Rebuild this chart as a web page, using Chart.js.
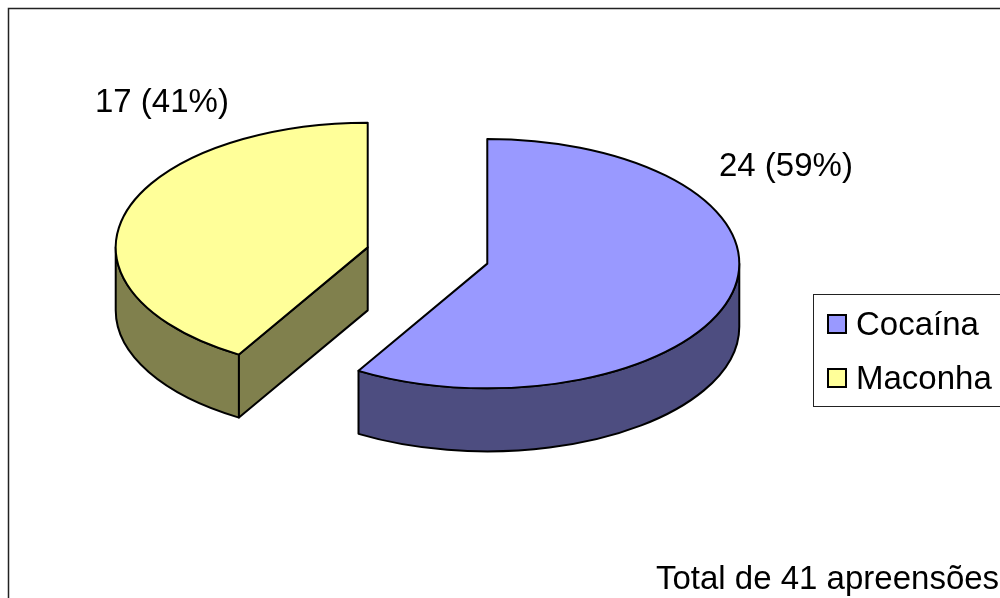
<!DOCTYPE html>
<html>
<head>
<meta charset="utf-8">
<script src="https://cdn.jsdelivr.net/npm/chart.js@4/dist/chart.umd.min.js"></script>
<style>
  html, body { margin: 0; padding: 0; background: #fff; }
  canvas { display: block; }
</style>
</head>
<body>
<canvas id="pizza" width="1000" height="598"></canvas>
<script>
// Dados do gráfico
const categorias = ['Cocaína', 'Maconha'];
const apreensoes = [24, 17];
const cores = ['#9999FF', '#FFFF99'];
const coresLaterais = ['#4D4D80', '#80804D'];
const tituloTotal = 'Total de 41 apreensões';

// Aparência do efeito 3D
const INCLINACAO = 0.495;   // achatamento vertical
const PROFUNDIDADE = 63;    // espessura da pizza em px
const EXPLOSAO = 62;        // afastamento das fatias
const FONTE = '33px "Liberation Sans", Arial, sans-serif';

const total = apreensoes.reduce((a, b) => a + b, 0);
const rotulos = apreensoes.map(v => v + ' (' + Math.round(v / total * 100) + '%)');

// Pizza 3D: laterais desenhadas a partir da geometria dos arcos do Chart.js
const pizza3d = {
  id: 'pizza3d',
  beforeDatasetsDraw(chart) {
    const ctx = chart.ctx;
    const meta = chart.getDatasetMeta(0);
    const cy = (chart.chartArea.top + chart.chartArea.bottom) / 2;
    const partes = meta.data.map((el, i) => {
      const p = el.getProps(['x', 'y', 'startAngle', 'endAngle', 'outerRadius']);
      const meio = (p.startAngle + p.endAngle) / 2;
      const ex = Math.cos(meio) * EXPLOSAO;
      const ey = Math.sin(meio) * EXPLOSAO;
      return {
        el, i, ex, ey,
        cx: p.x + ex,
        cy: cy + (p.y - cy + ey) * INCLINACAO,
        r: p.outerRadius, s: p.startAngle, e: p.endAngle
      };
    });

    ctx.save();
    ctx.lineWidth = 2;
    ctx.lineJoin = 'round';
    ctx.strokeStyle = '#000';

    // laterais
    partes.forEach(pt => {
      const rx = pt.r, ry = pt.r * INCLINACAO;
      ctx.fillStyle = coresLaterais[pt.i];
      const a1 = Math.max(pt.s, 0), a2 = Math.min(pt.e, Math.PI);
      if (a2 > a1) {
        ctx.beginPath();
        ctx.ellipse(pt.cx, pt.cy, rx, ry, 0, a1, a2);
        ctx.ellipse(pt.cx, pt.cy + PROFUNDIDADE, rx, ry, 0, a2, a1, true);
        ctx.closePath();
        ctx.fill();
        ctx.stroke();
      }
      [[pt.s, Math.cos(pt.s) < -0.01], [pt.e, Math.cos(pt.e) > 0.01]].forEach(([a, visivel]) => {
        if (!visivel) return;
        const x = pt.cx + rx * Math.cos(a), y = pt.cy + ry * Math.sin(a);
        ctx.beginPath();
        ctx.moveTo(pt.cx, pt.cy);
        ctx.lineTo(x, y);
        ctx.lineTo(x, y + PROFUNDIDADE);
        ctx.lineTo(pt.cx, pt.cy + PROFUNDIDADE);
        ctx.closePath();
        ctx.fill();
        ctx.stroke();
      });
    });

    // topo das fatias
    partes.forEach(pt => {
      ctx.save();
      ctx.translate(pt.ex, cy + pt.ey * INCLINACAO);
      ctx.scale(1, INCLINACAO);
      ctx.translate(0, -cy);
      pt.el.draw(ctx);
      ctx.restore();
      ctx.beginPath();
      ctx.moveTo(pt.cx, pt.cy);
      ctx.ellipse(pt.cx, pt.cy, pt.r, pt.r * INCLINACAO, 0, pt.s, pt.e);
      ctx.closePath();
      ctx.stroke();
    });
    ctx.restore();
    return false;
  }
};

// Moldura, rótulos, legenda e texto do total
const extras = {
  id: 'extras',
  beforeDraw(chart) {
    const ctx = chart.ctx;
    ctx.save();
    ctx.fillStyle = '#fff';
    ctx.fillRect(0, 0, chart.width, chart.height);
    ctx.strokeStyle = '#222';
    ctx.lineWidth = 1.5;
    ctx.strokeRect(8.5, 8.5, 1100, 700);
    ctx.restore();
  },
  afterDraw(chart) {
    const ctx = chart.ctx;
    ctx.save();
    ctx.font = FONTE;
    ctx.fillStyle = '#000';
    ctx.textBaseline = 'alphabetic';
    ctx.fillText(rotulos[0], 719, 176);
    ctx.fillText(rotulos[1], 95, 112);

    // legenda
    ctx.strokeStyle = '#222';
    ctx.lineWidth = 1;
    ctx.strokeRect(813.5, 294.5, 300, 112);
    categorias.forEach((c, i) => {
      const y = 315 + i * 54;
      ctx.fillStyle = cores[i];
      ctx.fillRect(828, y, 18, 18);
      ctx.lineWidth = 2;
      ctx.strokeStyle = '#000';
      ctx.strokeRect(828, y, 18, 18);
      ctx.fillStyle = '#000';
      ctx.fillText(c, 856, y + 20);
    });

    ctx.fillText(tituloTotal, 656, 589);
    ctx.restore();
  }
};

new Chart('pizza', {
  type: 'pie',
  data: {
    labels: categorias,
    datasets: [{
      data: apreensoes,
      backgroundColor: cores,
      borderWidth: 0,
      clip: false
    }]
  },
  options: {
    responsive: false,
    animation: false,
    radius: 252,
    layout: { padding: { left: 0, right: 145, top: 0, bottom: 87 } },
    events: [],
    plugins: {
      legend: { display: false },
      tooltip: { enabled: false }
    }
  },
  plugins: [pizza3d, extras]
});
</script>
</body>
</html>
